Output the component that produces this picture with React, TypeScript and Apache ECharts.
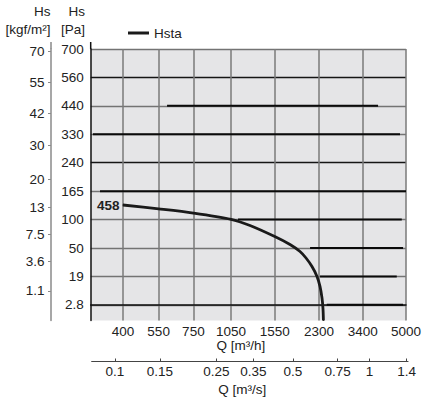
import React, { useEffect, useRef } from 'react';
import * as echarts from 'echarts';

// ---- data ----
const Q_TICKS = [400, 550, 750, 1050, 1550, 2300, 3400, 5000]; // m³/h
const Q_MIN = 300;
const Q_MAX = 5000;
const QS_TICKS = [0.1, 0.15, 0.25, 0.35, 0.5, 0.75, 1, 1.4]; // m³/s
const QS_MIN = 0.081;
const QS_MAX = 1.416;
const PA_TICKS = [2.8, 19, 50, 100, 165, 240, 330, 440, 560, 700]; // Pa
const KGF_TICKS = [1.1, 3.6, 7.5, 13, 20, 30, 42, 55, 70]; // kgf/m²

const CURVE_NAME = 'Hsta';
const CURVE_LABEL = '458';
const CURVE_Q = [400, 550, 750, 1050, 1243, 1550, 1776, 1942, 2049, 2161, 2260, 2321, 2363, 2384, 2393];
const CURVE_PA = [133.3, 124.6, 115, 100.6, 89.6, 70.2, 56.2, 46.2, 39.1, 29.8, 19, 13.3, 6.7, 2.1, 0];

// black reference segments over the horizontal grid lines
const SEG_PA = [440, 330, 165, 100, 50, 19, 2.8];
const SEG_Q_FROM = [593, 306, 326, 1117, 2124, 2322, 2466];
const SEG_Q_TO = [3897, 4740, 5000, 4815, 4871, 4604, 4871];

// ---- scale helpers ----
const BOTTOM_IDX = -0.55;
function paToIdx(p: number): number {
  if (p <= PA_TICKS[0]) return BOTTOM_IDX + (p / PA_TICKS[0]) * -BOTTOM_IDX;
  for (let i = 0; i < PA_TICKS.length - 1; i++) {
    const a = PA_TICKS[i];
    const b = PA_TICKS[i + 1];
    if (p <= b) return i + (p - a) / (b - a);
  }
  const n = PA_TICKS.length - 1;
  return n + (p - PA_TICKS[n]) / (PA_TICKS[n] - PA_TICKS[n - 1]);
}
const KGF_TO_PA = 9.80665;
const lg = (v: number) => Math.log10(v);
const findNear = (arr: number[], mapped: number[], v: number) => {
  for (let i = 0; i < arr.length; i++) if (Math.abs(mapped[i] - v) < 1e-6) return String(arr[i]);
  return '';
};

const FONT = 'Liberation Sans, Arial, Helvetica, sans-serif';
const TXT = '#222';

export default function App() {
  const ref = useRef<HTMLDivElement>(null);
  useEffect(() => {
    document.body.style.margin = '0';
    const chart = echarts.init(ref.current!, null, { renderer: 'svg' });

    const qLog = Q_TICKS.map(lg);
    const qsLog = QS_TICKS.map(lg);
    const paIdx = PA_TICKS.map((_, i) => i);
    const kgfIdx = KGF_TICKS.map((k) => paToIdx(k * KGF_TO_PA));

    const curveData: any[] = CURVE_Q.map((q, i) => {
      const v = [lg(q), paToIdx(CURVE_PA[i])];
      if (i === 0) {
        return {
          value: v,
          label: {
            show: true,
            formatter: CURVE_LABEL,
            position: 'left',
            distance: 3,
            fontWeight: 'bold',
            fontSize: 13.5,
            fontFamily: FONT,
            color: TXT,
          },
        };
      }
      return v;
    });

    const segData: any[] = [];
    SEG_PA.forEach((p, i) => {
      segData.push([lg(SEG_Q_FROM[i]), paToIdx(p)]);
      segData.push([lg(SEG_Q_TO[i]), paToIdx(p)]);
      segData.push('-');
    });

    const option: any = {
      animation: false,
      backgroundColor: '#ffffff',
      textStyle: { fontFamily: FONT, color: TXT },
      grid: [
        { left: 90.7, right: 39, top: 49, bottom: 78.5, backgroundColor: '#e5e5e7', show: true, borderWidth: 0 },
        { left: 91.7, right: 37, top: 330, bottom: 37.5 },
      ],
      legend: {
        data: [{ name: CURVE_NAME, icon: 'rect' }],
        left: 128,
        top: 26,
        padding: 0,
        itemWidth: 21,
        itemHeight: 3,
        itemGap: 4,
        textStyle: { fontSize: 13.5, fontFamily: FONT, color: TXT },
      },
      xAxis: [
        {
          type: 'value',
          gridIndex: 0,
          min: lg(Q_MIN),
          max: lg(Q_MAX),
          name: 'Q [m³/h]',
          nameLocation: 'middle',
          nameGap: 18,
          nameMoveOverlap: false,
          nameTextStyle: { fontSize: 13.5, lineHeight: 13, fontFamily: FONT, color: TXT, padding: [0, 15, 0, 0] },
          axisLine: { show: true, lineStyle: { color: '#111', width: 1.5 } },
          axisTick: { show: false, customValues: qLog },
          axisLabel: {
            customValues: qLog,
            margin: 4,
            fontSize: 13.5,
            lineHeight: 13,
            fontFamily: FONT,
            color: TXT,
            formatter: (v: number) => findNear(Q_TICKS, qLog, v),
          },
          splitLine: { show: true, lineStyle: { color: '#7a7a7a', width: 1.5 } },
        },
        {
          type: 'value',
          gridIndex: 1,
          min: lg(QS_MIN),
          max: lg(QS_MAX),
          name: 'Q [m³/s]',
          nameLocation: 'middle',
          nameGap: 21,
          nameTextStyle: { fontSize: 13.5, fontFamily: FONT, color: TXT, padding: [0, 15, 0, 0] },
          axisLine: { show: true, lineStyle: { color: '#444', width: 1.2 } },
          axisTick: { show: true, inside: true, length: 3, customValues: qsLog, lineStyle: { color: '#444' } },
          axisLabel: {
            customValues: qsLog,
            margin: 3,
            fontSize: 13.5,
            fontFamily: FONT,
            color: TXT,
            formatter: (v: number) => findNear(QS_TICKS, qsLog, v),
          },
          splitLine: { show: false },
        },
      ],
      yAxis: [
        {
          type: 'value',
          gridIndex: 0,
          min: BOTTOM_IDX,
          max: PA_TICKS.length - 1,
          axisLine: { show: true, lineStyle: { color: '#111', width: 1.5 } },
          axisTick: { show: false, customValues: paIdx },
          axisLabel: {
            customValues: paIdx,
            margin: 7,
            fontSize: 13.5,
            fontFamily: FONT,
            color: TXT,
            formatter: (v: number) => findNear(PA_TICKS, paIdx, v),
          },
          splitLine: {
            show: true,
            lineStyle: {
              width: 1.3,
              color: PA_TICKS.map((p) => (p === 240 || p === 560 ? '#151515' : '#737373')),
            },
          },
        },
        {
          type: 'value',
          gridIndex: 0,
          position: 'left',
          offset: 39.7,
          min: BOTTOM_IDX,
          max: PA_TICKS.length - 1,
          axisLine: { show: true, lineStyle: { color: '#8a8a8a', width: 1.5 } },
          axisTick: { show: true, length: 3, customValues: kgfIdx, lineStyle: { color: '#8a8a8a' } },
          axisLabel: {
            customValues: kgfIdx,
            margin: 6.5,
            fontSize: 13.5,
            fontFamily: FONT,
            color: TXT,
            formatter: (v: number) => findNear(KGF_TICKS, kgfIdx, v),
          },
          splitLine: { show: false },
        },
        { type: 'value', gridIndex: 1, show: false, min: 0, max: 1 },
      ],
      graphic: [
        { type: 'line', shape: { x1: 90.7, y1: 42, x2: 90.7, y2: 49 }, style: { stroke: '#111', lineWidth: 1.5 } },
        { type: 'line', shape: { x1: 51, y1: 42, x2: 51, y2: 49 }, style: { stroke: '#8a8a8a', lineWidth: 1.5 } },
        { type: 'text', x: 50.5, y: 11, style: { text: 'Hs', align: 'right', verticalAlign: 'middle', fontSize: 13.5, fontFamily: FONT, fill: TXT } },
        { type: 'text', x: 50.5, y: 29, style: { text: '[kgf/m²]', align: 'right', verticalAlign: 'middle', fontSize: 13.5, fontFamily: FONT, fill: TXT } },
        { type: 'text', x: 85, y: 11, style: { text: 'Hs', align: 'right', verticalAlign: 'middle', fontSize: 13.5, fontFamily: FONT, fill: TXT } },
        { type: 'text', x: 85, y: 29, style: { text: '[Pa]', align: 'right', verticalAlign: 'middle', fontSize: 13.5, fontFamily: FONT, fill: TXT } },
      ],
      series: [
        {
          name: 'segments',
          type: 'line',
          xAxisIndex: 0,
          yAxisIndex: 0,
          data: segData,
          symbol: 'none',
          connectNulls: false,
          lineStyle: { color: '#0a0a0a', width: 2 },
          silent: true,
          z: 3,
        },
        {
          name: CURVE_NAME,
          type: 'line',
          xAxisIndex: 0,
          yAxisIndex: 0,
          data: curveData,
          symbol: 'circle',
          symbolSize: 1,
          showSymbol: true,
          smooth: 0.3,
          color: '#1a1a1a',
          itemStyle: { color: '#1a1a1a' },
          lineStyle: { color: '#1a1a1a', width: 2.8 },
          z: 4,
        },
      ],
    };

    chart.setOption(option);
    return () => chart.dispose();
  }, []);
  return <div ref={ref} style={{ width: 445, height: 399 }} />;
}
